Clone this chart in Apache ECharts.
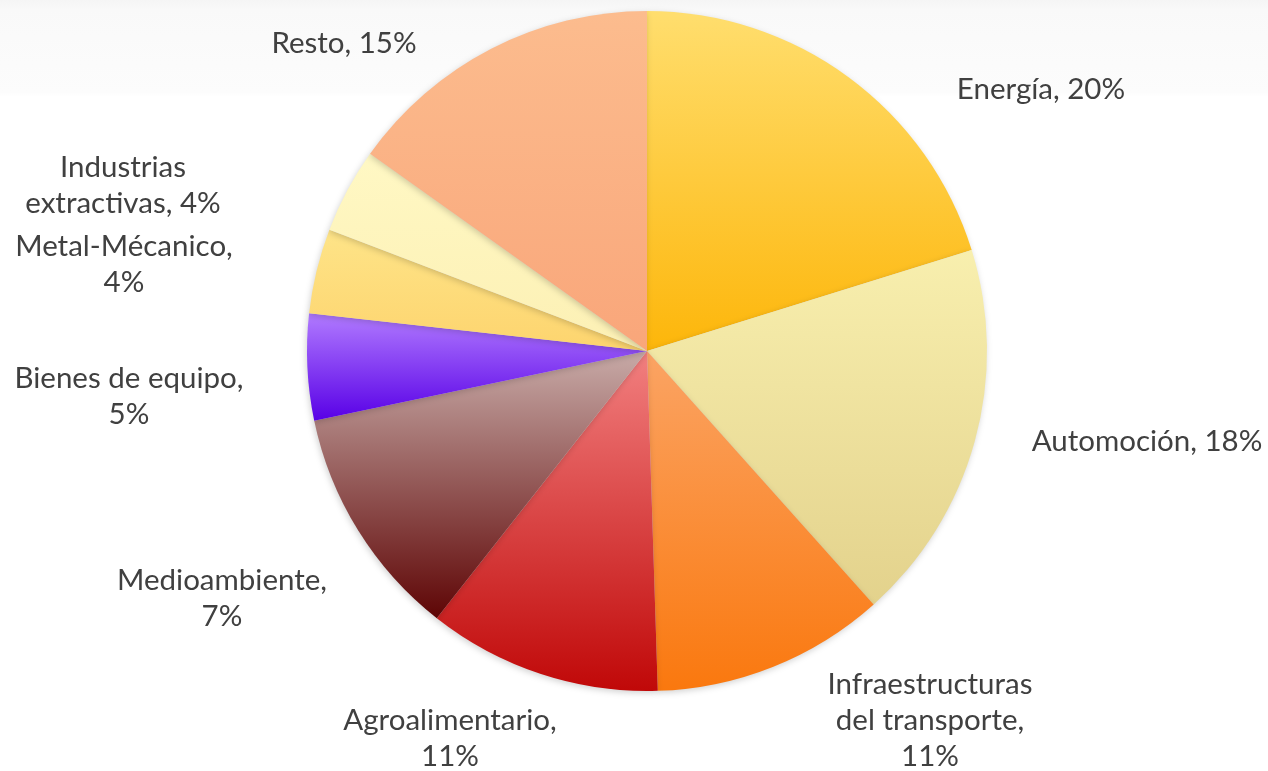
<!DOCTYPE html>
<html>
<head>
<meta charset="utf-8">
<script src="https://cdn.jsdelivr.net/npm/echarts@6/dist/echarts.min.js"></script>
<style>
html,body{margin:0;padding:0;background:#fff;}
#c{width:1268px;height:771px;}
</style>
</head>
<body>
<div id="c"></div>
<script>
// Data (clockwise from 12 o'clock)
var categories = ['Energía','Automoción','Infraestructuras del transporte','Agroalimentario','Medioambiente','Bienes de equipo','Metal-Mécanico','Industrias extractivas','Resto'];
var sliceValues = [20, 18, 11, 11, 11, 5, 4, 4, 15];      // slice sizes as drawn
var labelPercents = [20, 18, 11, 11, 7, 5, 4, 4, 15];     // percentages printed in the labels
var labelTexts = ['Energía, 20%','Automoción, 18%','Infraestructuras\ndel transporte,\n11%','Agroalimentario,\n11%','Medioambiente,\n7%','Bienes de equipo,\n5%','Metal-Mécanico,\n4%','Industrias\nextractivas, 4%','Resto, 15%'];

// Styles / layout (kept separate from data)
var gradientStops = [
  ['#FFDE6E','#FDB60A'],
  ['#F8EFAE','#E3D28C'],
  ['#FBA464','#FA780E'],
  ['#F28080','#C00808'],
  ['#C8ABA8','#5E0505'],
  ['#B17BFF','#5800E6'],
  ['#FEE488','#FDD46E'],
  ['#FFF8C4','#FCF0B4'],
  ['#FCBC8E','#F9A67A']
];
var labelCenters = [
  [1041, 89], [1147, 441], [930, 720], [450, 738], [222, 598],
  [129, 396], [124, 264], [123, 185], [344, 43]
];

var chart = echarts.init(document.getElementById('c'), null, {renderer:'canvas'});
var seriesData = categories.map(function(name, i){
  return {
    name: name,
    value: sliceValues[i],
    label: { formatter: labelTexts[i] },
    itemStyle: {
      color: new echarts.graphic.LinearGradient(0, 0, 0, 1, [
        {offset: 0, color: gradientStops[i][0]},
        {offset: 1, color: gradientStops[i][1]}
      ])
    }
  };
});

chart.setOption({
  backgroundColor: new echarts.graphic.LinearGradient(0, 0, 0, 1, [
    {offset: 0, color: '#f5f5f5'},
    {offset: 0.012, color: '#f9f9f9'},
    {offset: 0.12, color: '#fcfcfc'},
    {offset: 0.125, color: '#ffffff'},
    {offset: 1, color: '#ffffff'}
  ]),
  animation: false,
  series: [{
    type: 'pie',
    center: [647, 351],
    radius: [0, 340],
    startAngle: 90,
    clockwise: true,
    avoidLabelOverlap: false,
    data: seriesData,
    itemStyle: {
      borderWidth: 0,
      shadowColor: 'rgba(0,0,0,0.18)',
      shadowBlur: 6,
      shadowOffsetX: -1,
      shadowOffsetY: 2
    },
    label: {
      show: true,
      position: 'outside',
      fontFamily: 'Lato',
      fontSize: 29.5,
      lineHeight: 36,
      color: '#404040',
      align: 'center'
    },
    labelLine: { show: false },
    labelLayout: function(p){
      var c = labelCenters[p.dataIndex];
      return { x: c[0], y: c[1], align: 'center', verticalAlign: 'middle' };
    },
    emphasis: { disabled: true }
  }]
});
</script>
</body>
</html>
